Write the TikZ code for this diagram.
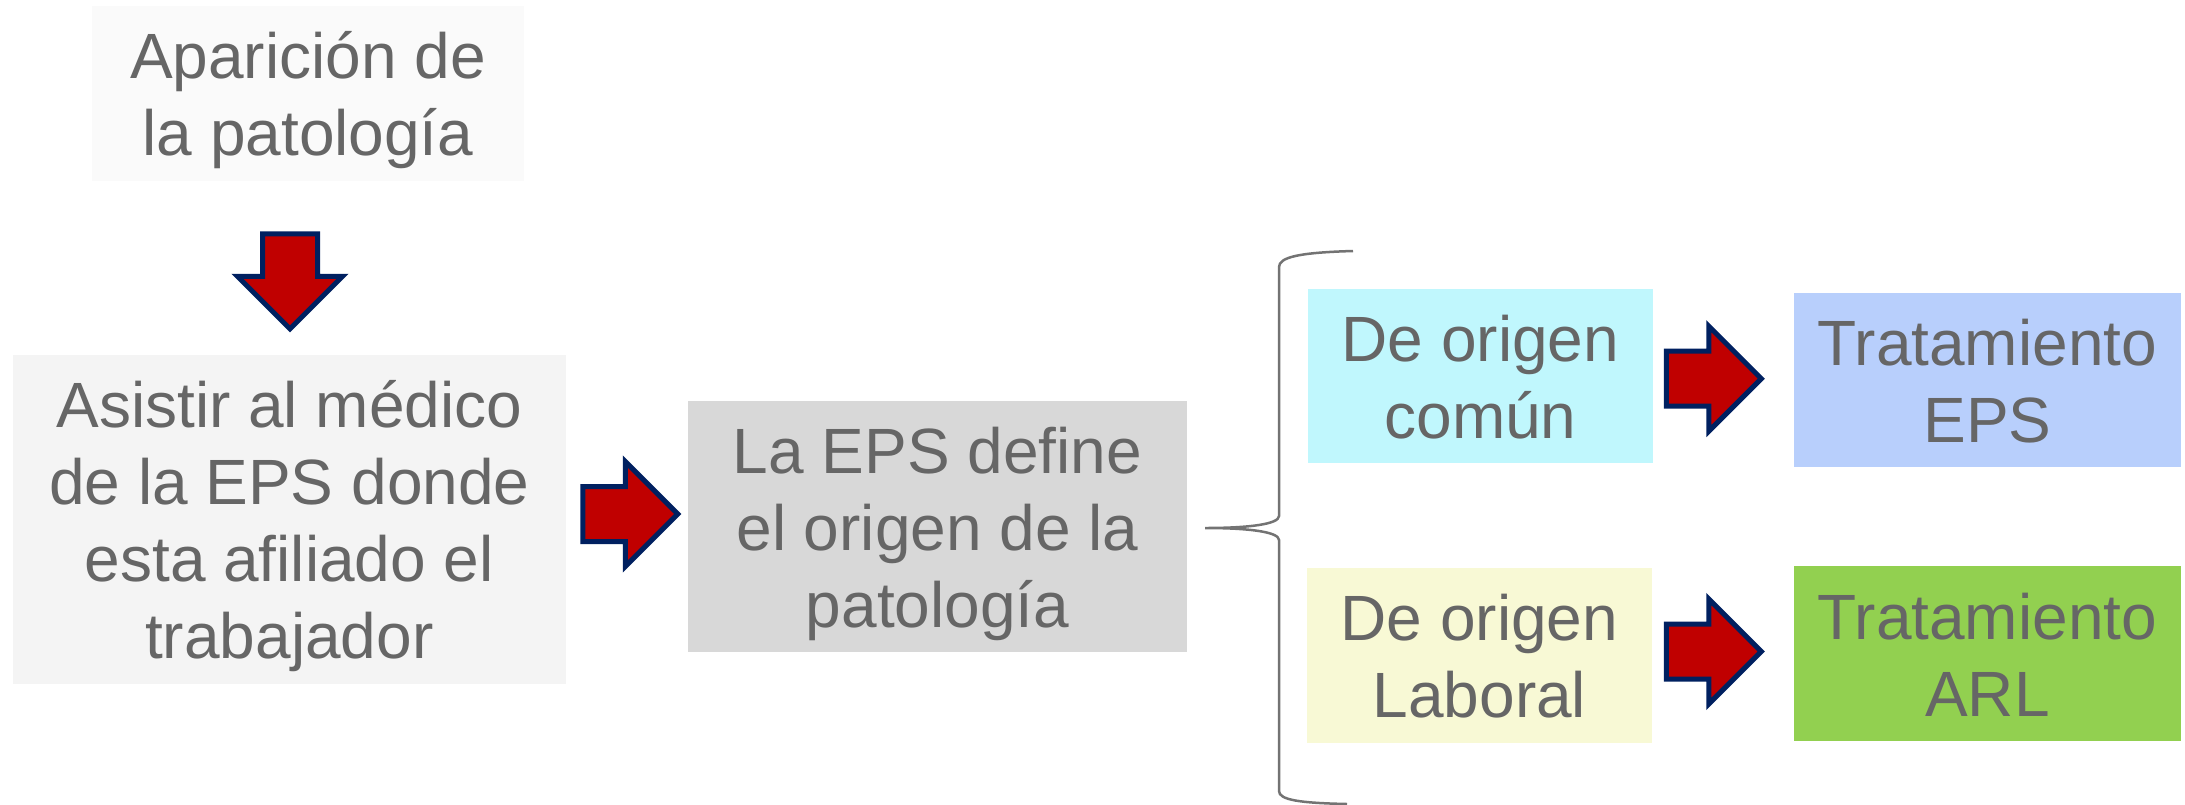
\documentclass[tikz,border=0pt]{standalone}
\usepackage{fontspec}
\setmainfont{Liberation Sans}
\usetikzlibrary{shapes.arrows}
\definecolor{txtgray}{HTML}{666666}
\definecolor{bxA}{HTML}{FAFAFA}
\definecolor{bxB}{HTML}{F4F4F4}
\definecolor{bxC}{HTML}{D8D8D8}
\definecolor{bxD}{HTML}{C0F7FD}
\definecolor{bxE}{HTML}{B8CFFC}
\definecolor{bxF}{HTML}{F8F9D5}
\definecolor{bxG}{HTML}{92D050}
\definecolor{arrfill}{HTML}{C00000}
\definecolor{arrline}{HTML}{002060}
\definecolor{bracegray}{HTML}{737373}
\newcommand{\lnstrut}{\rule[-0.2em]{0pt}{1.15em}}
\tikzset{
  box/.style={rectangle, inner sep=0pt, align=center, text=txtgray,
    font=\fontsize{64}{77}\selectfont},
  blockarrow/.style={single arrow, draw=arrline, fill=arrfill, line width=5pt,
    minimum height=95pt, single arrow head extend=25pt,
    single arrow tip angle=90, inner xsep=0pt, inner ysep=25pt, line join=miter},
  bracestyle/.style={draw=bracegray, line width=2.5pt}
}
\begin{document}
\begin{tikzpicture}[x=1pt,y=-1pt]
\useasboundingbox (0,0) rectangle (2185,804);
\node[box, fill=bxA, minimum width=432pt, minimum height=174.7pt] (b1) at (308,93.4) {\lnstrut Aparición de\\la patología\lnstrut};
\node[box, fill=bxB, minimum width=553.5pt, minimum height=329pt] (b2) at (289.3,519.5) {\lnstrut Asistir al médico\\de la EPS donde\\esta afiliado el\\trabajador\lnstrut};
\node[box, fill=bxC, minimum width=499pt, minimum height=251pt] (b3) at (937.5,526.5) {\lnstrut La EPS define\\el origen de la\\patología\lnstrut};
\node[box, fill=bxD, minimum width=345pt, minimum height=174pt] (b4) at (1480.5,376) {\lnstrut De origen\\común\lnstrut};
\node[box, fill=bxE, minimum width=387pt, minimum height=174.3pt] (b5) at (1987.5,380) {\lnstrut Tratamiento\\EPS\lnstrut};
\node[box, fill=bxF, minimum width=345pt, minimum height=175pt] (b6) at (1479.5,655) {\lnstrut De origen\\Laboral\lnstrut};
\node[box, fill=bxG, minimum width=387pt, minimum height=175pt] (b7) at (1987.5,653.5) {\lnstrut Tratamiento\\ARL\lnstrut};

\node[blockarrow, rotate=-90] (a1) at (290,267.7) {};
\node[blockarrow] (a2) at (616.5,514) {};
\node[blockarrow] (a3) at (1700,378.7) {};
\node[blockarrow] (a4) at (1700,651.5) {};

\coordinate (brtop) at (1353,251);
\coordinate (brtip) at (1205,528);
\coordinate (brbot) at (1347,804);
\draw[bracestyle] (brtop) .. controls (1300,252.5) and (1279,257) .. (1279,267)
  -- (1279,516) .. controls (1279,524) and (1250,528) .. (brtip)
  .. controls (1250,528) and (1279,532) .. (1279,540)
  -- (1279,791) .. controls (1279,800) and (1300,803) .. (brbot);
\end{tikzpicture}
\end{document}
